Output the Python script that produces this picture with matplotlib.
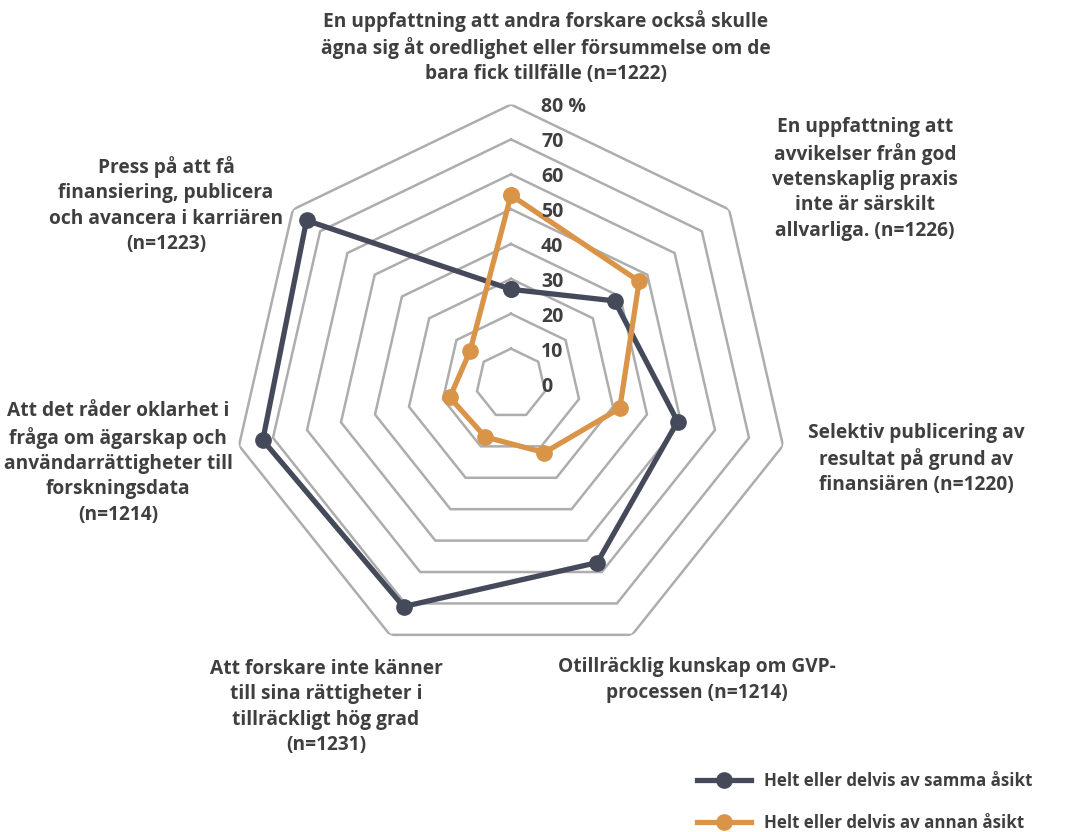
import numpy as np
import matplotlib
matplotlib.use("Agg")
import matplotlib.pyplot as plt
from matplotlib.transforms import ScaledTranslation
from matplotlib.lines import Line2D

plt.rcParams['font.family'] = ['Open Sans', 'DejaVu Sans']

categories = [
    "En uppfattning att andra forskare också skulle\nägna sig åt oredlighet eller försummelse om de\nbara fick tillfälle (n=1222)",
    "En uppfattning att\navvikelser från god\nvetenskaplig praxis\ninte är särskilt\nallvarliga. (n=1226)",
    "Selektiv publicering av\nresultat på grund av\nfinansiären (n=1220)",
    "Otillräcklig kunskap om GVP-\nprocessen (n=1214)",
    "Att forskare inte känner\ntill sina rättigheter i\ntillräckligt hög grad\n(n=1231)",
    "Att det råder oklarhet i\nfråga om ägarskap och\nanvändarrättigheter till\nforskningsdata\n(n=1214)",
    "Press på att få\nfinansiering, publicera\noch avancera i karriären\n(n=1223)",
]
series_names = ["Helt eller delvis av samma åsikt", "Helt eller delvis av annan åsikt"]
same_view = [27, 38, 49, 57, 71, 73, 75]
other_view = [54, 47, 32, 22, 17, 18, 15]
ring_levels = [10, 20, 30, 40, 50, 60, 70, 80]
tick_values = [0, 10, 20, 30, 40, 50, 60, 70, 80]
tick_labels = ["0", "10", "20", "30", "40", "50", "60", "70", "80 %"]

colors = ["#454A5B", "#D99447"]
text_color = "#3F3F3F"
grid_color = "#ADADAD"

W, H = 1066, 832
fig = plt.figure(figsize=(W / 100, H / 100), dpi=100)
cx, cy, R = 511, 383.5, 279
ax = fig.add_axes([(cx - R) / W, (H - cy - R) / H, 2 * R / W, 2 * R / H], projection='polar')
ax.set_theta_offset(np.pi / 2)
ax.set_theta_direction(-1)
ax.set_ylim(0, 80)
ax.set_axis_off()

n = len(categories)
theta = np.linspace(0, 2 * np.pi, n, endpoint=False)
theta_c = np.append(theta, theta[0])

for r in ring_levels:
    ax.plot(theta_c, [r] * (n + 1), color=grid_color, lw=1.8, zorder=1, solid_joinstyle='miter')

for vals, col, z in [(same_view, colors[0], 3), (other_view, colors[1], 4)]:
    v = np.append(vals, vals[0])
    ax.plot(theta_c, v, color=col, lw=3.8, marker='o', ms=11, zorder=z)

off = ScaledTranslation(30 / 100, -3 / 100, fig.dpi_scale_trans)
for val, lab in zip(tick_values, tick_labels):
    ax.text(0, val, lab, transform=ax.transData + off, ha='left', va='center',
            fontsize=14, fontweight='bold', color=text_color, zorder=5)

label_pos = [(546, 47), (865, 179), (916, 459), (697, 680), (326, 707), (118, 463), (166, 205)]
for lab, (x, y) in zip(categories, label_pos):
    fig.text(x / W, 1 - y / H, lab, ha='center', va='center', fontsize=13.8,
             fontweight='bold', color=text_color, linespacing=1.34)

handles = [Line2D([], [], color=c, lw=3.8, marker='o', ms=11) for c in colors]
leg = fig.legend(handles, series_names, loc='center left',
                 bbox_to_anchor=(697 / W, 1 - 802 / H), frameon=False,
                 prop={'size': 12.2, 'weight': 'bold'}, handlelength=3.2,
                 handletextpad=0.75, labelspacing=1.4, borderaxespad=0, borderpad=0)
for t in leg.get_texts():
    t.set_color(text_color)

fig.savefig("out.png", dpi=100)
